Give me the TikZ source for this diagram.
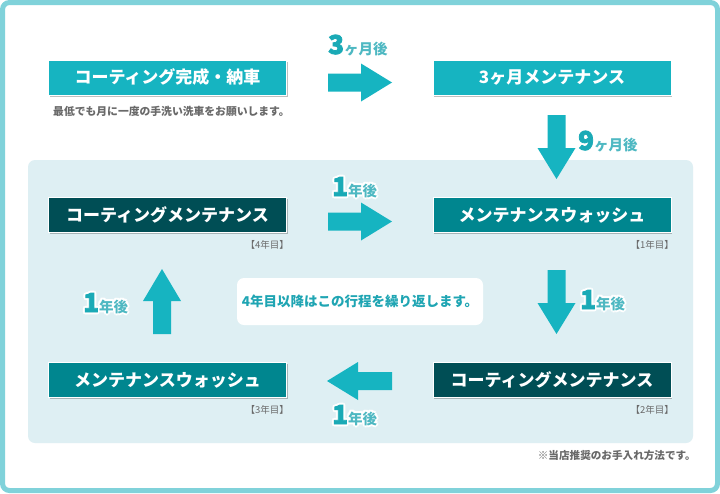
\documentclass[tikz,border=0pt]{standalone}
\usepackage{fontspec}
\newfontfamily\jp{Noto Sans CJK JP}
\newfontfamily\jpdig{Noto Sans CJK JP}[BoldFeatures={FakeBold=3}]
\usetikzlibrary{shadows}
\definecolor{tealA}{RGB}{22,180,193}
\definecolor{washC}{RGB}{0,134,143}
\definecolor{darkC}{RGB}{0,78,85}
\definecolor{panelC}{RGB}{222,239,243}
\definecolor{borderC}{RGB}{128,210,218}
\definecolor{grayT}{RGB}{105,105,105}
\definecolor{lblD}{RGB}{26,170,182}
\definecolor{lblL}{RGB}{78,184,194}
\definecolor{centerT}{RGB}{31,165,179}
\newcommand\lblraw[4]{{\jpdig\bfseries\color{#1}\fontsize{26}{26}\selectfont #3}{\jp\bfseries\color{#2}\fontsize{14.5}{14.5}\selectfont #4}}
\newcommand\hc[3]{\rlap{\hspace*{#1pt}\raisebox{#2pt}{#3}}}
\newcommand\halolbl[2]{\leavevmode
\hc{2}{0}{\lblraw{white}{white}{#1}{#2}}%
\hc{-2}{0}{\lblraw{white}{white}{#1}{#2}}%
\hc{0}{2}{\lblraw{white}{white}{#1}{#2}}%
\hc{0}{-2}{\lblraw{white}{white}{#1}{#2}}%
\hc{1.4}{1.4}{\lblraw{white}{white}{#1}{#2}}%
\hc{1.4}{-1.4}{\lblraw{white}{white}{#1}{#2}}%
\hc{-1.4}{1.4}{\lblraw{white}{white}{#1}{#2}}%
\hc{-1.4}{-1.4}{\lblraw{white}{white}{#1}{#2}}%
\lblraw{lblD}{lblL}{#1}{#2}}
\tikzset{
  stepbox/.style={draw=white, line width=1pt, minimum width=238pt, minimum height=35pt,
    inner sep=0pt, text height=12.2pt, text depth=0pt, text=white,
    font=\jp\bfseries\fontsize{17}{17}\selectfont,
    drop shadow={shadow xshift=1pt, shadow yshift=-1.5pt, opacity=0.25, fill=black}},
  tag/.style={anchor=east, inner sep=0pt, text=grayT, font=\jp\fontsize{9.5}{9.5}\selectfont},
  lbl/.style={anchor=base west, inner sep=0pt},
  arr/.style={fill=tealA},
  note/.style={inner sep=0pt, text=grayT, font=\jp\bfseries\fontsize{10.8}{10.8}\selectfont}
}
\begin{document}
\begin{tikzpicture}[x=1pt,y=-1pt]
\useasboundingbox (0,0) rectangle (720,493);
\fill[white] (0,0) rectangle (720,493);
\draw[borderC, line width=5pt, rounded corners=7pt] (2.5,2.5) rectangle (717.5,490.5);
\fill[panelC, rounded corners=7pt] (28,160) rectangle (693,443);
% boxes
\node[stepbox, fill=tealA] (b1) at (167.5,77.5) {コーティング完成・納車};
\node[stepbox, fill=tealA] (b2) at (552,77.5) {3ヶ月メンテナンス};
\node[stepbox, fill=washC] (b3) at (552,215) {メンテナンスウォッシュ};
\node[stepbox, fill=darkC] (b4) at (167.5,215) {コーティングメンテナンス};
\node[stepbox, fill=darkC] (b5) at (552,380) {コーティングメンテナンス};
\node[stepbox, fill=washC] (b6) at (167.5,380) {メンテナンスウォッシュ};
% tags
\node[tag] (t3) at (674,245) {【1年目】};
\node[tag] (t4) at (289,245) {【4年目】};
\node[tag] (t5) at (674,410) {【2年目】};
\node[tag] (t6) at (289,410) {【3年目】};
% notes
\node[note, anchor=west] (sub) at (53,111) {最低でも月に一度の手洗い洗車をお願いします。};
\node[note, anchor=east, font=\jp\bfseries\fontsize{10.6}{10.6}\selectfont] (foot) at (696,455) {※当店推奨のお手入れ方法です。};
\node[fill=white, rounded corners=7pt, minimum width=246pt, minimum height=47pt, inner sep=0pt,
  text=centerT, font=\jp\bfseries\fontsize{13.5}{13.5}\selectfont] (ctr) at (360,301.5) {4年目以降はこの行程を繰り返します。};
% block arrows
\fill[arr] (328,73.5) -- (361,73.5) -- (361,63.5) -- (392,82.5) -- (361,101.5) -- (361,91.5) -- (328,91.5) -- cycle;
\fill[arr] (328,212.5) -- (361,212.5) -- (361,202.5) -- (392,221.5) -- (361,240.5) -- (361,230.5) -- (328,230.5) -- cycle;
\fill[arr] (392,372) -- (358,372) -- (358,362) -- (327,381) -- (358,400) -- (358,390) -- (392,390) -- cycle;
\fill[arr] (547.5,115) -- (547.5,148) -- (537.5,148) -- (556.5,179) -- (575.5,148) -- (565.5,148) -- (565.5,115) -- cycle;
\fill[arr] (547.5,270) -- (547.5,303) -- (537.5,303) -- (556.5,334) -- (575.5,303) -- (565.5,303) -- (565.5,270) -- cycle;
\fill[arr] (153,334) -- (153,301) -- (143,301) -- (162,269) -- (181,301) -- (171,301) -- (171,334) -- cycle;
% labels
\node[lbl] (l1) at (328,54) {\halolbl{3}{ヶ月後}};
\node[lbl] (l2) at (578,150) {\halolbl{9}{ヶ月後}};
\node[lbl] (l3) at (332,196) {\halolbl{1}{年後}};
\node[lbl] (l4) at (580,309) {\halolbl{1}{年後}};
\node[lbl] (l5) at (83,312) {\halolbl{1}{年後}};
\node[lbl] (l6) at (332,424) {\halolbl{1}{年後}};
\end{tikzpicture}
\end{document}
